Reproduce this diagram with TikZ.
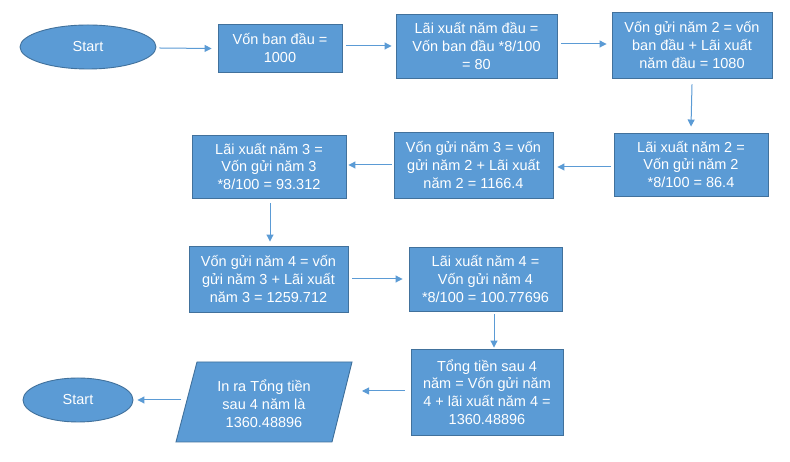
\documentclass[tikz,border=0pt]{standalone}
\usepackage{fontspec}
\setmainfont{Liberation Sans}
\usetikzlibrary{arrows.meta,shapes.geometric}
\definecolor{boxfill}{HTML}{5B9BD5}
\definecolor{boxline}{HTML}{41719C}
\definecolor{arrcol}{HTML}{5B9BD5}
\begin{document}
\begin{tikzpicture}[x=1pt,y=1pt,
  txt/.style={text=white,font=\fontsize{14.5}{17.8}\selectfont,align=center,inner sep=0pt},
  procbox/.style={txt,draw=boxline,fill=boxfill,line width=0.9pt,rectangle},
  term/.style={txt,draw=boxline,fill=boxfill,line width=0.9pt,ellipse},
  arr/.style={draw=arrcol,line width=1pt,-{Triangle[length=7pt,width=7pt]}}]
\useasboundingbox (0,0) rectangle (790,462);
\fill[white] (0,0) rectangle (790,462);
% terminals
\node[term,minimum width=136pt,minimum height=44pt] (e1) at (88,415) {Start};
\node[term,minimum width=110pt,minimum height=44pt] (e2) at (78,62) {Start};
% process boxes
\node[procbox,minimum width=124pt,minimum height=48pt] (b1) at (280,414) {Vốn ban đầu =\\1000};
\node[procbox,minimum width=161pt,minimum height=64pt] (b2) at (476.5,416) {Lãi xuất năm đầu =\\Vốn ban đầu *8/100\\= 80};
\node[procbox,minimum width=160pt,minimum height=66pt] (b3) at (692,417) {Vốn gửi năm 2 = vốn\\ban đầu + Lãi xuất\\năm đầu = 1080};
\node[procbox,minimum width=154pt,minimum height=63pt] (b4) at (691,297.5) {Lãi xuất năm 2 =\\Vốn gửi năm 2\\*8/100 = 86.4};
\node[procbox,minimum width=159pt,minimum height=66pt] (b5) at (473.5,297) {Vốn gửi năm 3 = vốn\\gửi năm 2 + Lãi xuất\\năm 2 = 1166.4};
\node[procbox,minimum width=154pt,minimum height=63pt] (b6) at (269,295.5) {Lãi xuất năm 3 =\\Vốn gửi năm 3\\*8/100 = 93.312};
\node[procbox,minimum width=159pt,minimum height=66pt] (b7) at (268.5,183) {Vốn gửi năm 4 = vốn\\gửi năm 3 + Lãi xuất\\năm 3 = 1259.712};
\node[procbox,minimum width=153pt,minimum height=64pt] (b8) at (485.5,183) {Lãi xuất năm 4 =\\Vốn gửi năm 4\\*8/100 = 100.77696};
\node[procbox,minimum width=152pt,minimum height=86pt] (b9) at (487,70) {Tổng tiền sau 4\\năm = Vốn gửi năm\\4 + lãi xuất năm 4 =\\1360.48896};
% parallelogram
\draw[draw=boxline,fill=boxfill,line width=0.9pt] (176,20) -- (332,20) -- (352,100) -- (197,100) -- cycle;
\node[txt] (p) at (264,58) {In ra Tổng tiền\\sau 4 năm là\\1360.48896};
\coordinate (pr) at (362,71);
\coordinate (pl) at (181,62);
% connectors
\draw[arr] ([xshift=3pt,yshift=-1pt]e1.east) -- ([xshift=-6pt,yshift=-0.5pt]b1.west);
\draw[arr] ([xshift=4pt,yshift=2pt]b1.east) -- ([xshift=-4pt]b2.west);
\draw[arr] ([xshift=4pt,yshift=2pt]b2.east) -- ([xshift=-5pt,yshift=1pt]b3.west);
\draw[arr] ([yshift=-6pt]b3.south) -- ([yshift=6pt]b4.north);
\draw[arr] ([xshift=-3pt,yshift=-2.5pt]b4.west) -- ([xshift=4pt,yshift=-2pt]b5.east);
\draw[arr] ([xshift=-2pt]b5.west) -- ([xshift=2pt,yshift=1.5pt]b6.east);
\draw[arr] ([xshift=1pt,yshift=-5pt]b6.south) -- ([xshift=1.5pt,yshift=4pt]b7.north);
\draw[arr] ([xshift=4pt]b7.east) -- ([xshift=-6pt]b8.west);
\draw[arr] ([xshift=8.5pt,yshift=-3pt]b8.south) -- ([xshift=7pt,yshift=1pt]b9.north);
\draw[arr] ([xshift=-6pt,yshift=1pt]b9.west) -- (pr);
\draw[arr] (pl) -- ([xshift=4pt]e2.east);
\end{tikzpicture}
\end{document}
